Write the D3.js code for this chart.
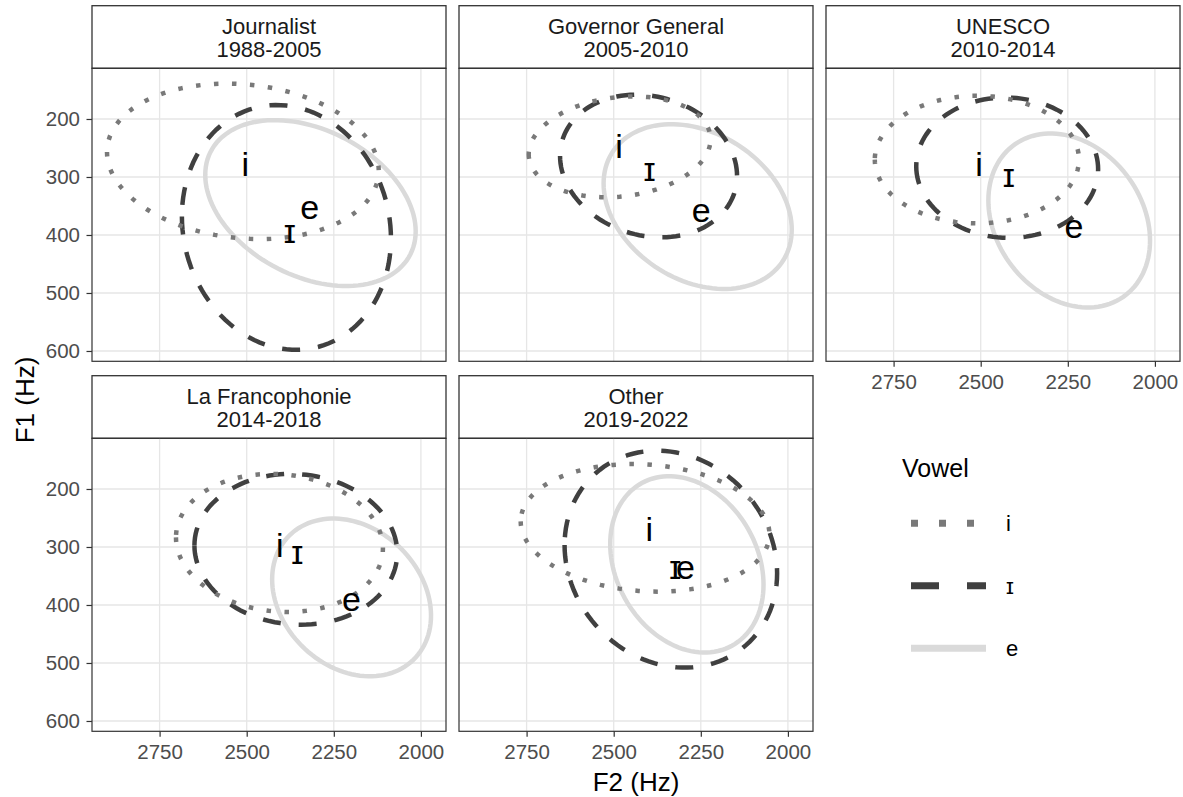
<!DOCTYPE html>
<html>
<head>
<meta charset="utf-8">
<script src="https://cdn.jsdelivr.net/npm/d3@7"></script>
<style>
  body { margin: 0; background: #fff; }
  svg { font-family: "Liberation Sans", Arial, sans-serif; }
</style>
</head>
<body>
<svg width="1183" height="797"></svg>
<script>
// facets (strip labels)
const facetRole = ["Journalist", "Governor General", "UNESCO", "La Francophonie", "Other"];
const facetYears = ["1988-2005", "2005-2010", "2010-2014", "2014-2018", "2019-2022"];

const vowels = ["i", "ɪ", "e"];

// ellipse per facet, order of vowels: [i, ɪ, e]
const ellCenterF2 = [
  [2511, 2386, 2317],
  [2483, 2400, 2259],
  [2511, 2424, 2246],
  [2406, 2359, 2199],
  [2410, 2336, 2290]
];
const ellCenterF1 = [
  [273, 387, 345],
  [248, 281, 351],
  [270, 284, 375],
  [293, 304, 387],
  [267, 321, 330]
];
const ellHalfF2 = [
  [390, 300, 302],
  [261, 254, 270],
  [293, 261, 232],
  [297, 291, 228],
  [357, 305, 220]
];
const ellHalfF1 = [
  [134, 211, 143],
  [87, 123, 142],
  [110, 121, 150],
  [119, 130, 136],
  [110, 187, 152]
];
const ellRho = [
  [-0.12, -0.09, -0.34],
  [0.15, -0.14, -0.28],
  [0.0, -0.02, -0.23],
  [-0.08, -0.05, -0.23],
  [-0.1, -0.13, -0.23]
];

// vowel means (label positions)
const meanF2 = [
  [2504, 2376, 2319],
  [2485, 2397, 2249],
  [2505, 2419, 2232],
  [2405, 2355, 2199],
  [2398, 2323, 2294]
];
const meanF1 = [
  [279, 395, 354],
  [249, 289, 358],
  [280, 298, 386],
  [299, 311, 391],
  [271, 337, 337]
];

const f2Ticks = [2750, 2500, 2250, 2000];
const f1Ticks = [200, 300, 400, 500, 600];
const f2Limits = [2944, 1928];
const f1Limits = [112.6, 617.8];

// styling
const vowelColor = { "i": "#797979", "ɪ": "#404040", "e": "#dadada" };
const vowelDash = { "i": "1,3", "ɪ": "4,4", "e": null };
const drawOrder = [2, 1, 0];

const panelW = 354, panelH = 293, stripH = 62.6;
const colX = [92, 459, 826];
const rowY = [5.7, 375.7];

const svg = d3.select("svg");

const x = d3.scaleLinear().domain(f2Limits).range([0, panelW]);
const y = d3.scaleLinear().domain(f1Limits).range([0, panelH]);

const line = d3
  .line()
  .x(d => x(d[0]))
  .y(d => y(d[1]))
  .curve(d3.curveLinearClosed);

function ellipsePoints(c2, c1, r2, r1, rho) {
  const phi = Math.acos(rho);
  return d3.range(0, 2 * Math.PI, Math.PI / 60).map(t => [
    c2 + r2 * Math.cos(t),
    c1 + r1 * Math.cos(t - phi)
  ]);
}

function dashArray(pattern, lw) {
  return pattern ? pattern.split(",").map(v => +v * lw).join(",") : null;
}

const lw = 4.5;

facetRole.forEach((role, f) => {
  const col = f % 3, row = Math.floor(f / 3);
  const gx = colX[col], top = rowY[row];
  const g = svg.append("g").attr("transform", `translate(${gx},${top})`);

  // strip
  g.append("rect")
    .attr("x", 0).attr("y", 0)
    .attr("width", panelW).attr("height", stripH)
    .attr("fill", "#fff").attr("stroke", "#333").attr("stroke-width", 1.3);
  g.append("text")
    .attr("x", panelW / 2).attr("y", 28)
    .attr("text-anchor", "middle").attr("font-size", 22).attr("fill", "#1a1a1a")
    .text(role);
  g.append("text")
    .attr("x", panelW / 2).attr("y", 51.5)
    .attr("text-anchor", "middle").attr("font-size", 22).attr("fill", "#1a1a1a")
    .text(facetYears[f]);

  const p = g.append("g").attr("transform", `translate(0,${stripH})`);

  p.append("clipPath").attr("id", "clip" + f)
    .append("rect").attr("width", panelW).attr("height", panelH);

  // grid
  p.selectAll("line.vg").data(f2Ticks).enter().append("line")
    .attr("x1", d => x(d)).attr("x2", d => x(d))
    .attr("y1", 0).attr("y2", panelH)
    .attr("stroke", "#e6e6e6").attr("stroke-width", 1.3);
  p.selectAll("line.hg").data(f1Ticks).enter().append("line")
    .attr("y1", d => y(d)).attr("y2", d => y(d))
    .attr("x1", 0).attr("x2", panelW)
    .attr("stroke", "#e6e6e6").attr("stroke-width", 1.3);

  const marks = p.append("g").attr("clip-path", `url(#clip${f})`);

  drawOrder.forEach(v => {
    const vowel = vowels[v];
    const pts = ellipsePoints(
      ellCenterF2[f][v], ellCenterF1[f][v],
      ellHalfF2[f][v], ellHalfF1[f][v], ellRho[f][v]
    );
    marks.append("path")
      .attr("d", line(pts))
      .attr("fill", "none")
      .attr("stroke", vowelColor[vowel])
      .attr("stroke-width", lw)
      .attr("stroke-dasharray", dashArray(vowelDash[vowel], lw));
  });

  marks.selectAll("text.lab").data(vowels).enter().append("text")
    .attr("x", (d, v) => x(meanF2[f][v]))
    .attr("y", (d, v) => y(meanF1[f][v]))
    .attr("dy", "0.32em")
    .attr("text-anchor", "middle")
    .attr("font-size", 34)
    .attr("fill", "#000")
    .text(d => d);

  p.append("rect")
    .attr("width", panelW).attr("height", panelH)
    .attr("fill", "none").attr("stroke", "#333").attr("stroke-width", 1.2);

  // axes
  const hasX = row === 1 || col === 2;
  const hasY = col === 0;
  if (hasX) {
    const ax = p.append("g")
      .attr("transform", `translate(0,${panelH})`)
      .call(d3.axisBottom(x).tickValues(f2Ticks).tickFormat(d3.format("d"))
        .tickSize(5.5).tickPadding(8).tickSizeOuter(0));
    ax.select(".domain").remove();
    ax.selectAll("line").attr("stroke", "#333").attr("stroke-width", 1.2);
    ax.selectAll("text").attr("font-size", 20.5).attr("fill", "#4d4d4d")
      .attr("font-family", "Liberation Sans, Arial, sans-serif");
  }
  if (hasY) {
    const ay = p.append("g")
      .call(d3.axisLeft(y).tickValues(f1Ticks).tickFormat(d3.format("d"))
        .tickSize(5.5).tickPadding(6.5).tickSizeOuter(0));
    ay.select(".domain").remove();
    ay.selectAll("line").attr("stroke", "#333").attr("stroke-width", 1.2);
    ay.selectAll("text").attr("font-size", 20.5).attr("fill", "#4d4d4d")
      .attr("font-family", "Liberation Sans, Arial, sans-serif");
  }
});

// axis titles
svg.append("text")
  .attr("x", 636).attr("y", 791)
  .attr("text-anchor", "middle").attr("font-size", 26)
  .text("F2 (Hz)");
svg.append("text")
  .attr("transform", "translate(34,400) rotate(-90)")
  .attr("text-anchor", "middle").attr("font-size", 26)
  .text("F1 (Hz)");

// legend
const legend = svg.append("g").attr("transform", "translate(902,0)");
legend.append("text")
  .attr("x", 0).attr("y", 477)
  .attr("font-size", 25)
  .text("Vowel");

const keyY = d3.scalePoint().domain(vowels).range([523.3, 648.3]);
const keyLw = 7;

const keys = legend.selectAll("g.key").data(vowels).enter().append("g")
  .attr("transform", d => `translate(0,${keyY(d)})`);
keys.append("line")
  .attr("x1", 9).attr("x2", 84)
  .attr("stroke", d => vowelColor[d])
  .attr("stroke-width", keyLw)
  .attr("stroke-dasharray", d => dashArray(vowelDash[d], keyLw));
keys.append("text")
  .attr("x", 104).attr("dy", "0.35em")
  .attr("font-size", 22)
  .text(d => d);
</script>
</body>
</html>
